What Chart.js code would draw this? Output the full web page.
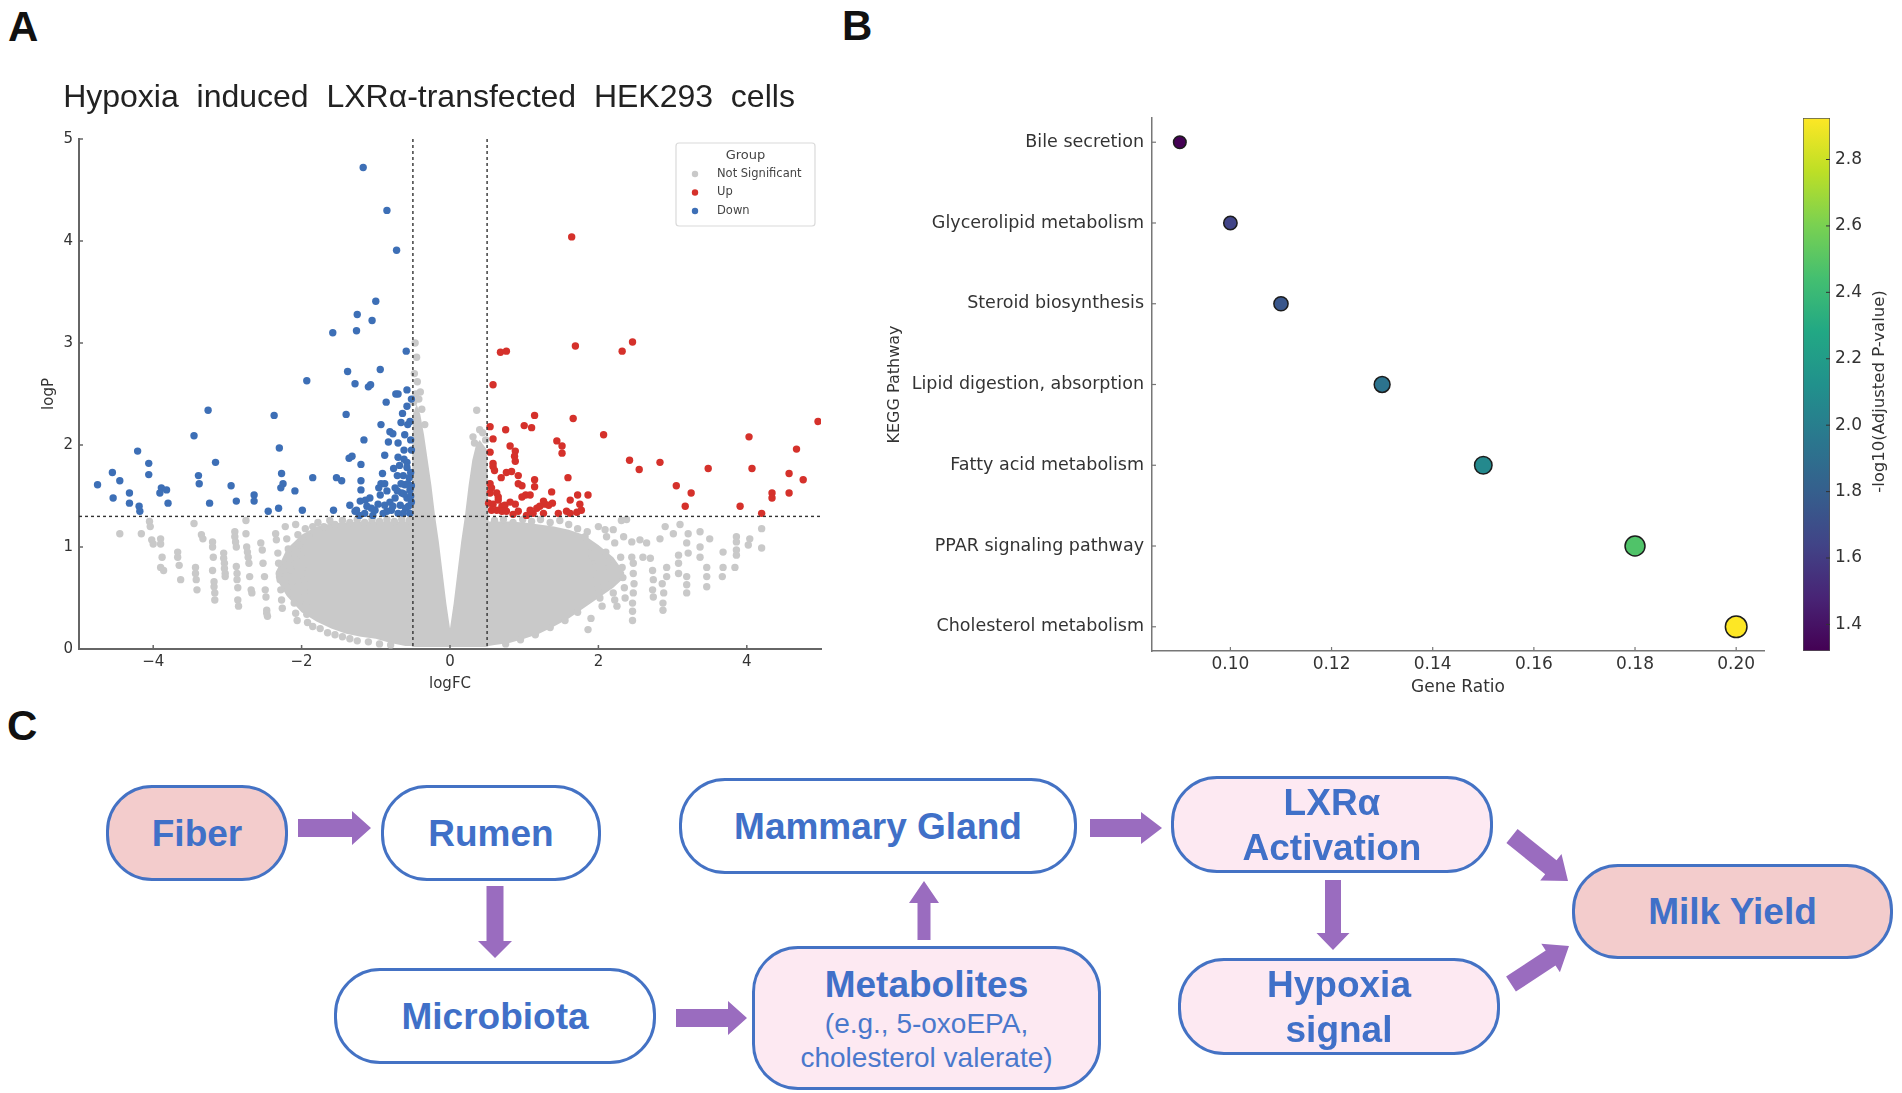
<!DOCTYPE html>
<html lang="en">
<head>
<meta charset="UTF-8">
<title>Volcano, KEGG enrichment and pathway diagram</title>
<script src="https://cdn.jsdelivr.net/npm/chart.js"></script>
<style>
  html, body { margin: 0; padding: 0; background: #fff; }
  #page { position: relative; width: 1902px; height: 1093px; overflow: hidden; font-family: "Liberation Sans", Arial, sans-serif; }
  .panel { position: absolute; }
  .tag { position: absolute; font-weight: bold; font-size: 42px; line-height: 42px; color: #111; }
  .title { position: absolute; left: 0; width: 858px; text-align: center; font-size: 32px; line-height: 38px; color: #222; white-space: pre; }
  .box { position: absolute; box-sizing: border-box; border: 3px solid #4472c4; border-radius: 46px;
         display: flex; flex-direction: column; align-items: center; justify-content: center; text-align: center;
         color: #4070c8; font-weight: bold; font-size: 37px; line-height: 45px; background: #fff; }
  .box.hot { background: #f3cccc; }
  .box.soft { background: #fde9f2; }
  .box .sub { font-weight: normal; font-size: 28px; line-height: 34px; color: #4a78cc; }
  #arrows { position: absolute; left: 0; top: 0; }
</style>
</head>
<body>
<div id="page">
  <div class="tag" style="left:8px;top:6px">A</div>
  <div class="tag" style="left:842px;top:5px">B</div>
  <div class="tag" style="left:7px;top:705px">C</div>

  <div class="panel" style="left:0;top:0;width:858px;height:720px"><canvas id="volcano"></canvas></div>
  <div class="title" id="volcanoTitle" style="top:77px"></div>
  <div class="panel" style="left:850px;top:0;width:930px;height:720px"><canvas id="kegg"></canvas></div>
  <div class="panel" style="left:1790px;top:0;width:112px;height:720px"><canvas id="cbar"></canvas></div>

  <svg id="arrows" width="1902" height="1093"></svg>

  <div class="box hot"  style="left:106px;top:785px;width:182px;height:96px">Fiber</div>
  <div class="box"      style="left:381px;top:785px;width:220px;height:96px">Rumen</div>
  <div class="box"      style="left:679px;top:778px;width:398px;height:96px">Mammary Gland</div>
  <div class="box soft" style="left:1171px;top:776px;width:322px;height:97px">LXRα<br>Activation</div>
  <div class="box hot"  style="left:1572px;top:864px;width:321px;height:95px">Milk Yield</div>
  <div class="box"      style="left:334px;top:968px;width:322px;height:96px">Microbiota</div>
  <div class="box soft" style="left:752px;top:946px;width:349px;height:144px">Metabolites<span class="sub">(e.g., 5-oxoEPA,<br>cholesterol valerate)</span></div>
  <div class="box soft" style="left:1178px;top:958px;width:322px;height:97px">Hypoxia<br>signal</div>
</div>

<script>
// ---------- panel A: volcano plot ----------
const volcanoTitle = 'Hypoxia  induced  LXRα-transfected  HEK293  cells';
const fcTicks = [-4, -2, 0, 2, 4];
const logPTicks = [0, 1, 2, 3, 4, 5];
const fcCut = 0.5;
const pCut = 1.3;

// significant, down-regulated (logFC, logP)
const downPts = [
  [-1.17,4.72],[-0.85,4.30],[-0.72,3.91],[-1.00,3.41],[-1.25,3.28],[-1.05,3.22],[-1.26,3.12],[-1.58,3.10],
  [-0.59,2.92],[-1.38,2.72],[-0.94,2.74],[-1.28,2.60],[-1.10,2.57],[-1.07,2.59],[-1.93,2.63],[-0.73,2.50],
  [-0.70,2.50],[-0.58,2.54],[-0.86,2.42],[-0.58,2.38],[-0.52,2.45],[-1.40,2.30],[-2.37,2.29],[-3.26,2.34],
  [-0.64,2.31],[-0.93,2.20],[-0.57,2.20],[-0.54,2.23],[-0.81,2.13],[-0.77,2.11],[-0.61,2.10],[-1.16,2.05],
  [-0.83,2.03],[-0.70,2.02],[-3.45,2.09],[-4.21,1.94],[-2.30,1.97],[-0.88,1.90],[-0.70,1.88],[-0.62,1.86],
  [-0.58,1.83],[-1.36,1.87],[-1.32,1.89],[-1.20,1.81],[-0.76,1.77],[-0.68,1.80],[-0.58,1.78],[-0.53,1.73],
  [-0.55,1.68],[-4.06,1.82],[-4.06,1.71],[-3.16,1.83],[-4.55,1.73],[-4.45,1.65],[-4.75,1.61],[-4.54,1.48],
  [-4.32,1.53],[-4.32,1.43],[-4.19,1.40],[-4.18,1.35],[-3.89,1.58],[-3.82,1.56],[-3.91,1.53],[-3.80,1.43],
  [-3.39,1.70],[-3.38,1.62],[-3.24,1.43],[-2.95,1.60],[-2.88,1.45],[-2.64,1.51],[-2.64,1.45],[-2.45,1.35],
  [-2.31,1.38],[-2.27,1.72],[-2.25,1.62],[-2.28,1.58],[-2.09,1.55],[-1.99,1.36],[-1.85,1.68],[-1.57,1.36],
  [-1.53,1.68],[-1.46,1.65],[-1.20,1.65],[-1.20,1.56],[-1.14,1.46],[-0.93,1.62],[-0.88,1.62],[-0.91,1.72],
  [-1.35,1.41],[-1.26,1.36],[-1.22,1.31],[-1.04,1.31],[-1.01,1.36],[-1.28,1.35],[-1.21,1.45],[-1.08,1.48],
  [-1.06,1.38],[-0.94,1.51],[-0.88,1.41],[-0.85,1.35],[-0.81,1.44],[-0.79,1.36],[-0.74,1.58],[-0.74,1.48],
  [-0.67,1.41],[-0.65,1.53],[-0.63,1.33],[-0.61,1.61],[-0.58,1.48],[-0.56,1.40],[-0.54,1.33],[-0.54,1.56],
  [-0.52,1.44],[-0.60,1.38],[-0.70,1.33],[-0.66,1.62],[-0.77,1.40],[-0.90,1.33],[-0.97,1.42],[-1.12,1.40],
  [-1.15,1.33],[-0.71,1.70],[-0.63,1.70],[-0.57,1.62],[-0.85,1.55],[-0.96,1.58],[-0.52,1.95],[-0.62,1.95],
  [-0.53,2.05],[-0.66,2.22],[-0.52,1.60],[-0.53,1.50],[-0.62,1.52],[-0.71,1.55]
];

// significant, up-regulated
const upPts = [
  [1.64,4.04],[1.69,2.97],[0.68,2.91],[0.76,2.92],[2.32,2.92],[2.46,3.01],[0.58,2.59],[1.66,2.26],
  [1.14,2.29],[1.00,2.19],[1.10,2.17],[0.75,2.15],[0.54,2.18],[0.58,2.06],[2.07,2.10],[4.96,2.23],
  [4.03,2.08],[4.67,1.96],[1.44,2.04],[1.51,1.99],[1.51,1.92],[0.81,1.99],[0.88,1.94],[0.87,1.89],
  [0.88,1.84],[0.54,1.93],[0.58,1.82],[0.58,1.79],[0.60,1.75],[2.42,1.85],[2.55,1.76],[2.83,1.83],
  [3.48,1.77],[4.07,1.77],[4.57,1.72],[4.76,1.66],[3.05,1.60],[3.25,1.53],[4.34,1.53],[4.34,1.48],
  [4.57,1.53],[3.17,1.40],[3.91,1.40],[4.20,1.33],[1.59,1.68],[1.14,1.66],[1.14,1.59],[0.69,1.68],
  [0.76,1.73],[0.83,1.74],[0.92,1.70],[0.92,1.62],[0.97,1.60],[0.54,1.62],[0.56,1.58],[1.37,1.54],
  [1.02,1.51],[1.08,1.51],[0.63,1.53],[0.65,1.49],[1.26,1.45],[1.28,1.42],[1.38,1.43],[1.72,1.51],
  [1.86,1.51],[1.62,1.46],[0.88,1.42],[1.75,1.42],[1.77,1.36],[0.52,1.43],[0.58,1.42],[0.70,1.40],
  [0.74,1.41],[0.56,1.36],[0.63,1.36],[0.70,1.35],[0.76,1.35],[0.85,1.32],[1.17,1.38],[1.21,1.40],
  [1.12,1.33],[1.26,1.33],[1.46,1.33],[1.57,1.35],[1.62,1.33],[1.71,1.34],[0.54,1.53],[0.65,1.46],
  [0.81,1.44],[0.97,1.49],[1.33,1.41],[1.08,1.36],[0.92,1.35],[1.03,1.31]
];

// not significant, scattered points outside the dense core
const nsPts = [
  [-4.45,1.13],[-4.16,1.13],[-4.05,1.25],[-4.04,1.20],[-4.02,1.07],[-4.00,1.03],[-3.90,1.08],[-3.90,1.03],
  [-3.88,0.90],[-3.90,0.80],[-3.86,0.77],[-3.67,0.95],[-3.67,0.90],[-3.65,0.82],[-3.63,0.68],[-3.45,1.23],
  [-3.43,0.80],[-3.43,0.74],[-3.42,0.68],[-3.41,0.58],[-3.35,1.12],[-3.33,1.08],[-3.20,1.05],[-3.20,1.00],
  [-3.19,0.90],[-3.20,0.77],[-3.18,0.66],[-3.18,0.61],[-3.17,0.55],[-3.17,0.48],[-3.05,0.94],[-3.05,0.89],
  [-3.04,0.84],[-3.04,0.79],[-3.03,0.74],[-3.03,0.71],[-2.90,1.15],[-2.90,1.10],[-2.89,1.05],[-2.88,1.00],
  [-2.88,0.81],[-2.87,0.74],[-2.87,0.68],[-2.86,0.60],[-2.86,0.48],[-2.85,0.42],[-2.75,1.26],[-2.75,1.13],
  [-2.74,1.00],[-2.73,0.95],[-2.72,0.90],[-2.71,0.84],[-2.70,0.71],[-2.68,0.58],[-2.67,0.55],[-2.55,1.04],
  [-2.53,0.97],[-2.52,0.84],[-2.50,0.71],[-2.49,0.58],[-2.48,0.51],[-2.47,0.38],[-2.47,0.35],[-2.46,0.32],
  [-2.35,1.13],[-2.34,1.07],[-2.32,0.94],[-2.31,0.84],[-2.30,0.74],[-2.29,0.68],[-2.28,0.58],[-2.27,0.48],
  [-2.26,0.40],[-2.22,1.20],[-2.20,1.08],[-2.18,0.98],[-2.16,0.88],[-2.15,0.78],[-2.13,0.66],[-2.12,0.55],
  [-2.10,0.45],[-2.08,0.35],[-2.06,0.28],[-2.08,1.22],[-2.05,1.12],[-2.03,1.02],[-2.01,0.92],[-1.99,0.80],
  [-1.97,0.68],[-1.96,0.56],[-1.94,0.44],[-1.93,0.34],[-1.92,0.26],[-1.95,1.18],[-1.90,1.10],[-1.85,1.20],
  [-1.78,1.24],[-1.70,1.20],[-1.62,1.26],[-1.55,1.22],[-1.45,1.26],[-1.35,1.24],[-1.25,1.27],[-1.15,1.24],
  [-1.05,1.27],[-0.95,1.25],[-0.85,1.27],[-0.75,1.25],[-0.65,1.27],[-0.55,1.26],[-1.85,0.22],[-1.75,0.20],
  [-1.65,0.16],[-1.55,0.14],[-1.45,0.12],[-1.35,0.10],[-1.25,0.08],[-1.10,0.07],[-0.95,0.05],[-0.80,0.04],
  [-0.47,3.00],[-0.45,2.86],[-0.48,2.70],[-0.44,2.62],[-0.46,2.50],[-0.42,2.45],[-0.38,2.35],[-0.34,2.20],
  [-0.49,2.42],[-0.40,2.52],[0.36,2.34],[0.31,2.08],[0.44,2.12],[0.40,2.15],[0.48,2.05],[0.33,2.02],
  [0.60,1.26],[0.72,1.27],[0.85,1.24],[0.98,1.27],[1.10,1.25],[1.22,1.27],[1.35,1.24],[1.48,1.26],
  [1.60,1.22],[1.72,1.18],[1.82,1.10],[1.90,1.00],[1.95,0.88],[1.85,1.15],[1.92,0.90],[1.95,0.80],
  [1.98,0.70],[2.00,0.60],[2.02,0.50],[2.05,0.42],[2.10,0.95],[2.12,0.85],[2.15,0.75],[2.18,0.65],
  [2.20,0.55],[2.22,0.48],[2.25,0.42],[2.30,0.90],[2.32,0.80],[2.33,0.70],[2.35,0.60],[2.36,0.50],
  [2.00,1.20],[2.09,1.17],[2.11,1.10],[2.20,1.17],[2.22,1.04],[2.31,1.26],[2.34,1.10],[2.38,1.27],
  [1.86,0.19],[1.90,0.30],[0.75,0.05],[0.95,0.09],[1.15,0.14],[1.35,0.21],[1.55,0.28],[1.72,0.36],
  [2.45,1.05],[2.56,1.07],[2.65,1.04],[2.83,1.08],[2.90,1.20],[3.01,1.13],
  [3.10,1.22],[3.21,1.13],[3.37,1.15],[3.50,1.08],[3.86,1.10],[3.86,1.05],[4.04,1.08],[4.02,1.02],
  [4.20,1.18],[4.20,0.99],[2.45,0.90],[2.47,0.84],[2.47,0.74],[2.48,0.64],[2.47,0.55],[2.46,0.45],
  [2.46,0.37],[2.46,0.28],[2.60,0.90],[2.70,0.89],[2.73,0.77],[2.74,0.68],[2.73,0.58],[2.74,0.51],
  [2.86,0.64],[2.88,0.55],[2.87,0.45],[2.87,0.38],[2.92,0.80],[2.92,0.71],[3.08,0.92],[3.08,0.84],
  [3.08,0.74],[3.19,1.04],[3.21,0.94],[3.19,0.71],[3.19,0.63],[3.19,0.55],[3.37,1.00],[3.37,0.90],
  [3.46,0.80],[3.46,0.71],[3.46,0.61],[3.68,0.95],[3.68,0.80],[3.67,0.71],[3.86,0.97],[3.86,0.92],
  [3.84,0.80]
];

// outline of the dense, overplotted not-significant cloud
const coreX      = [-2.35,-2.2,-2.0,-1.8,-1.6,-1.4,-1.2,-1.0,-0.8,-0.6,-0.52,-0.5,-0.45,-0.4,-0.35,-0.3,-0.25,-0.2,-0.15,-0.1,-0.05,0,0.05,0.1,0.15,0.2,0.25,0.3,0.35,0.4,0.45,0.5,0.52,0.6,0.8,1.0,1.2,1.4,1.6,1.8,2.0,2.2,2.35];
const coreTop    = [0.75,0.98,1.12,1.2,1.23,1.24,1.25,1.25,1.25,1.25,1.25,2.3,2.4,2.3,2.1,1.85,1.6,1.3,1.05,0.75,0.45,0.2,0.45,0.75,1.05,1.3,1.6,1.85,2.0,2.05,2.0,1.95,1.25,1.25,1.25,1.24,1.22,1.2,1.17,1.12,1.02,0.9,0.75];
const coreBottom = [0.7,0.52,0.36,0.27,0.2,0.15,0.12,0.1,0.06,0.03,0.03,0.02,0.02,0.02,0.02,0.02,0.02,0.02,0.02,0.02,0.02,0.02,0.02,0.02,0.02,0.02,0.02,0.02,0.02,0.02,0.02,0.02,0.03,0.04,0.06,0.1,0.15,0.22,0.3,0.4,0.5,0.6,0.7];

// ---------- panel B: KEGG enrichment ----------
const pathways  = ['Bile secretion', 'Glycerolipid metabolism', 'Steroid biosynthesis', 'Lipid digestion, absorption',
                   'Fatty acid metabolism', 'PPAR signaling pathway', 'Cholesterol metabolism'];
const geneRatio = [0.09, 0.10, 0.11, 0.13, 0.15, 0.18, 0.20];
const negLogP   = [1.32, 1.64, 1.75, 1.93, 2.07, 2.48, 2.925];
const ratioTicks = [0.10, 0.12, 0.14, 0.16, 0.18, 0.20];
const cbarTicks  = [1.4, 1.6, 1.8, 2.0, 2.2, 2.4, 2.6, 2.8];

// ---------- helpers ----------
const BLUE = '#3d6fb6', RED = '#d5312b', GREY = '#c9c9c9';
const VIRIDIS = ['#440154','#482475','#414487','#355f8d','#2a788e','#21918c','#22a884','#44bf70','#7ad151','#bddf26','#fde725'];

function hexRgb(h) { return [1, 3, 5].map(i => parseInt(h.substr(i, 2), 16)); }
function viridis(t) {
  t = Math.max(0, Math.min(1, t)) * (VIRIDIS.length - 1);
  const i = Math.min(Math.floor(t), VIRIDIS.length - 2), f = t - i;
  const a = hexRgb(VIRIDIS[i]), b = hexRgb(VIRIDIS[i + 1]);
  return 'rgb(' + a.map((v, k) => Math.round(v + (b[k] - v) * f)).join(',') + ')';
}
const toXY = pts => pts.map(p => ({ x: p[0], y: p[1] }));
const minus = v => (v < 0 ? '\u2212' + Math.abs(v) : String(v));
const pMin = Math.min(...negLogP), pMax = Math.max(...negLogP);

document.getElementById('volcanoTitle').textContent = volcanoTitle;

// small inward tick marks, matplotlib style
const inTicks = {
  id: 'inTicks',
  afterDraw(chart, args, opts) {
    const { ctx, chartArea: a } = chart;
    ctx.save();
    ctx.strokeStyle = opts.color; ctx.lineWidth = opts.width;
    Object.values(chart.scales).forEach(s => {
      if (!s.options.display) return;
      s.ticks.forEach(t => {
        const p = s.getPixelForValue(t.value);
        ctx.beginPath();
        if (s.isHorizontal()) { ctx.moveTo(p, a.bottom); ctx.lineTo(p, a.bottom - opts.len); }
        else if (s.position === 'left') { ctx.moveTo(a.left, p); ctx.lineTo(a.left + opts.len, p); }
        else { ctx.moveTo(a.right, p); ctx.lineTo(a.right - opts.len, p); }
        ctx.stroke();
      });
    });
    ctx.restore();
  }
};

// dotted cut-off lines
const cutLines = {
  id: 'cutLines',
  afterDatasetsDraw(chart) {
    const { ctx, chartArea: a, scales: { x, y } } = chart;
    ctx.save();
    ctx.setLineDash([3, 3]); ctx.strokeStyle = '#333'; ctx.lineWidth = 1.4;
    [-fcCut, fcCut].forEach(v => {
      const px = x.getPixelForValue(v);
      ctx.beginPath(); ctx.moveTo(px, a.top); ctx.lineTo(px, a.bottom); ctx.stroke();
    });
    const py = y.getPixelForValue(pCut);
    ctx.beginPath(); ctx.moveTo(a.left, py); ctx.lineTo(a.right, py); ctx.stroke();
    ctx.restore();
  }
};

// boxed "Group" legend inside the plot
const groupLegend = {
  id: 'groupLegend',
  afterDraw(chart) {
    const { ctx, chartArea: a } = chart;
    const items = chart.data.datasets.filter(d => d.legendRank).sort((p, q) => p.legendRank - q.legendRank);
    const w = 139, h = 83, x0 = a.right - w - 6, y0 = a.top + 4;
    ctx.save();
    ctx.fillStyle = '#fff'; ctx.strokeStyle = '#dadada'; ctx.lineWidth = 1.2;
    ctx.beginPath(); ctx.roundRect(x0, y0, w, h, 3); ctx.fill(); ctx.stroke();
    ctx.fillStyle = '#444'; ctx.textBaseline = 'middle';
    ctx.font = '13px "DejaVu Sans"'; ctx.textAlign = 'center';
    ctx.fillText('Group', x0 + w / 2, y0 + 13);
    ctx.font = '11.5px "DejaVu Sans"'; ctx.textAlign = 'left';
    items.forEach((d, i) => {
      const yy = y0 + 31 + i * 18.5;
      ctx.fillStyle = d.backgroundColor;
      ctx.beginPath(); ctx.arc(x0 + 19, yy, 3.2, 0, Math.PI * 2); ctx.fill();
      ctx.fillStyle = '#444';
      ctx.fillText(d.label, x0 + 41, yy);
    });
    ctx.restore();
  }
};

// rotated colour-bar label, reading bottom to top
const cbarLabel = {
  id: 'cbarLabel',
  afterDraw(chart, args, opts) {
    const { ctx, chartArea: a } = chart;
    ctx.save();
    ctx.translate(90, (a.top + a.bottom) / 2 + 7);
    ctx.rotate(-Math.PI / 2);
    ctx.textAlign = 'center'; ctx.textBaseline = 'middle';
    ctx.font = '16.5px "DejaVu Sans"'; ctx.fillStyle = '#333';
    ctx.fillText(opts.text, 0, 0);
    ctx.restore();
  }
};

Chart.defaults.font.family = '"DejaVu Sans", sans-serif';
Chart.defaults.color = '#333';
Chart.defaults.animation = false;
Chart.defaults.events = [];
Chart.defaults.maintainAspectRatio = false;

// ---------- volcano chart ----------
new Chart(document.getElementById('volcano'), {
  type: 'scatter',
  data: {
    datasets: [
      { label: 'Down', legendRank: 3, data: toXY(downPts), backgroundColor: BLUE, pointRadius: 3.7, pointBorderWidth: 0 },
      { label: 'Up', legendRank: 2, data: toXY(upPts), backgroundColor: RED, pointRadius: 3.7, pointBorderWidth: 0 },
      { label: 'Not Significant', legendRank: 1, data: toXY(nsPts), backgroundColor: GREY, pointRadius: 3.7, pointBorderWidth: 0 },
      { type: 'line', label: 'core', data: coreX.map((x, i) => ({ x, y: coreTop[i] })), fill: '+1',
        backgroundColor: GREY, borderColor: 'rgba(0,0,0,0)', pointRadius: 0, tension: 0 },
      { type: 'line', label: 'coreBase', data: coreX.map((x, i) => ({ x, y: coreBottom[i] })), fill: false,
        borderColor: 'rgba(0,0,0,0)', pointRadius: 0, tension: 0 }
    ]
  },
  options: {
    responsive: true,
    layout: { padding: { top: 139, right: 37, bottom: 11, left: 0 } },
    scales: {
      x: {
        type: 'linear', min: -5, max: 5,
        afterBuildTicks: s => { s.ticks = fcTicks.map(v => ({ value: v })); },
        afterFit: s => { s.height = 60; },
        grid: { display: false, drawTicks: false },
        border: { display: true, color: '#666', width: 2 },
        ticks: { font: { size: 15 }, padding: 4, callback: v => minus(v) },
        title: { display: true, text: 'logFC', font: { size: 15 }, padding: { top: 0, bottom: 16 } }
      },
      y: {
        type: 'linear', min: 0, max: 5,
        afterBuildTicks: s => { s.ticks = logPTicks.map(v => ({ value: v })); },
        afterFit: s => { s.width = 79; },
        grid: { display: false, drawTicks: false },
        border: { display: true, color: '#666', width: 2 },
        ticks: { font: { size: 15 }, padding: 6 },
        title: { display: true, text: 'logP', font: { size: 15 }, padding: { top: 40, bottom: 0 } }
      }
    },
    plugins: {
      legend: { display: false },
      tooltip: { enabled: false },
      inTicks: { len: 4, color: '#666', width: 1.5 }
    }
  },
  plugins: [cutLines, inTicks, groupLegend]
});

// ---------- KEGG dot plot ----------
const xPad = (Math.max(...geneRatio) - Math.min(...geneRatio)) * 0.05;
const yPad = (pathways.length - 1) * 0.05;
new Chart(document.getElementById('kegg'), {
  type: 'scatter',
  data: {
    datasets: [{
      data: pathways.map((n, i) => ({ x: geneRatio[i], y: i, p: negLogP[i] })),
      backgroundColor: c => (c.raw ? viridis((c.raw.p - pMin) / (pMax - pMin)) : '#000'),
      borderColor: '#1c1c1c', borderWidth: 1.5,
      pointRadius: c => (c.raw ? 2.6 + 41 * c.raw.x : 3)
    }]
  },
  options: {
    responsive: true,
    layout: { padding: { top: 118, right: 16, bottom: 9, left: 0 } },
    scales: {
      x: {
        type: 'linear', min: Math.min(...geneRatio) - xPad, max: Math.max(...geneRatio) + xPad,
        afterBuildTicks: s => { s.ticks = ratioTicks.map(v => ({ value: v })); },
        afterFit: s => { s.height = 60; },
        grid: { display: false, drawTicks: false },
        border: { display: true, color: '#777', width: 1.5 },
        ticks: { font: { size: 17 }, padding: 3, callback: v => v.toFixed(2) },
        title: { display: true, text: 'Gene Ratio', font: { size: 17 }, padding: { top: 0, bottom: 13 } }
      },
      y: {
        type: 'linear', reverse: true, min: -yPad, max: pathways.length - 1 + yPad,
        afterBuildTicks: s => { s.ticks = pathways.map((n, i) => ({ value: i })); },
        afterFit: s => { s.width = 302; },
        grid: { display: false, drawTicks: false },
        border: { display: true, color: '#777', width: 1.5 },
        ticks: { font: { size: 17.5 }, padding: 8, callback: v => pathways[v] },
        title: { display: true, text: 'KEGG Pathway', font: { size: 16 }, padding: { top: 35, bottom: 0 } }
      }
    },
    plugins: {
      legend: { display: false },
      tooltip: { enabled: false },
      inTicks: { len: 4, color: '#777', width: 1.2 }
    }
  },
  plugins: [inTicks]
});

// ---------- colour bar ----------
new Chart(document.getElementById('cbar'), {
  type: 'bar',
  data: {
    labels: [''],
    datasets: [{
      data: [[pMin, pMax]],
      backgroundColor: c => {
        const { chart } = c;
        if (!chart.chartArea) return '#888';
        const y = chart.scales.y;
        const g = chart.ctx.createLinearGradient(0, y.getPixelForValue(pMin), 0, y.getPixelForValue(pMax));
        VIRIDIS.forEach((col, i) => g.addColorStop(i / (VIRIDIS.length - 1), col));
        return g;
      },
      borderColor: '#555', borderWidth: 1, borderSkipped: false,
      barPercentage: 1, categoryPercentage: 1
    }]
  },
  options: {
    responsive: true,
    layout: { padding: { top: 118, right: 0, bottom: 69, left: 13 } },
    scales: {
      x: { display: false },
      y: {
        position: 'right', min: pMin, max: pMax,
        afterBuildTicks: s => { s.ticks = cbarTicks.map(v => ({ value: v })); },
        afterFit: s => { s.width = 72; },
        grid: { display: false, drawTicks: false },
        border: { display: false },
        ticks: { font: { size: 17 }, padding: 5, callback: v => v.toFixed(1) }
      }
    },
    plugins: {
      legend: { display: false },
      tooltip: { enabled: false },
      inTicks: { len: 4, color: '#333', width: 1 },
      cbarLabel: { text: '-log10(Adjusted P-value)' }
    }
  },
  plugins: [inTicks, cbarLabel]
});

// ---------- panel C arrows ----------
// [tailX, tailY, tipX, tipY, bodyWidth, headWidth, headLength]
const flowArrows = [
  [298, 828, 371, 828, 18, 34, 19],
  [495, 886, 495, 958, 17, 34, 17],
  [676, 1018, 747, 1018, 18, 34, 19],
  [924, 940, 924, 881, 13, 30, 22],
  [1090, 828, 1162, 828, 18, 32, 21],
  [1333, 880, 1333, 950, 16, 33, 17],
  [1512, 836, 1568, 881, 18, 34, 22],
  [1511, 984, 1569, 946, 18, 34, 22]
];
function arrowPoints(a) {
  const [x1, y1, x2, y2, bw, hw, hl] = a;
  const L = Math.hypot(x2 - x1, y2 - y1), ux = (x2 - x1) / L, uy = (y2 - y1) / L, nx = -uy, ny = ux;
  const bx = x2 - ux * hl, by = y2 - uy * hl;
  return [[x1 + nx * bw / 2, y1 + ny * bw / 2], [bx + nx * bw / 2, by + ny * bw / 2], [bx + nx * hw / 2, by + ny * hw / 2],
          [x2, y2], [bx - nx * hw / 2, by - ny * hw / 2], [bx - nx * bw / 2, by - ny * bw / 2], [x1 - nx * bw / 2, y1 - ny * bw / 2]]
    .map(p => p[0].toFixed(1) + ',' + p[1].toFixed(1)).join(' ');
}
const svg = document.getElementById('arrows');
flowArrows.forEach(a => {
  const poly = document.createElementNS('http://www.w3.org/2000/svg', 'polygon');
  poly.setAttribute('points', arrowPoints(a));
  poly.setAttribute('fill', '#9a6cbf');
  svg.appendChild(poly);
});
</script>
</body>
</html>
